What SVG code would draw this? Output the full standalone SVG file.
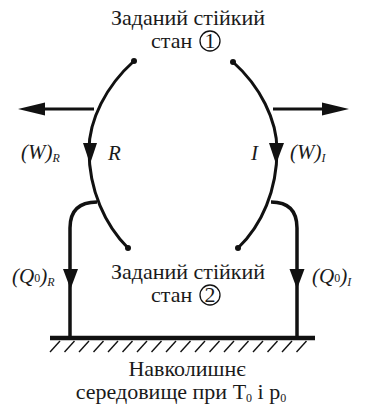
<svg xmlns="http://www.w3.org/2000/svg" width="368" height="409" viewBox="0 0 368 409">
<rect width="368" height="409" fill="#fff"/>
<g id="state1">
  <text style="font-family:'Liberation Serif',serif !important" font-family="Liberation Serif" font-size="22" fill="#1a1a1a" x="188" y="25" text-anchor="middle">Заданий стійкий</text>
  <text style="font-family:'Liberation Serif',serif !important" font-family="Liberation Serif" font-size="22" fill="#1a1a1a" x="151" y="48">стан</text>
  <circle cx="210" cy="41" r="10" fill="none" stroke="#111" stroke-width="1.3"/>
  <text style="font-family:'Liberation Serif',serif !important" font-family="Liberation Serif" font-size="22" fill="#1a1a1a" x="210" y="48" text-anchor="middle">1</text>
</g>
<g id="state2">
  <text style="font-family:'Liberation Serif',serif !important" font-family="Liberation Serif" font-size="22" fill="#1a1a1a" x="188" y="279" text-anchor="middle">Заданий стійкий</text>
  <text style="font-family:'Liberation Serif',serif !important" font-family="Liberation Serif" font-size="22" fill="#1a1a1a" x="151" y="302">стан</text>
  <circle cx="210" cy="295" r="10" fill="none" stroke="#111" stroke-width="1.3"/>
  <text style="font-family:'Liberation Serif',serif !important" font-family="Liberation Serif" font-size="22" fill="#1a1a1a" x="210" y="302" text-anchor="middle">2</text>
</g>
<g id="environment">
  <line x1="50" y1="338" x2="315" y2="338" stroke="#111" stroke-width="4.5"/>
  <g stroke="#111" stroke-width="1.4">
    <line x1="50" y1="352" x2="60" y2="341"/><line x1="64.5" y1="352" x2="74.5" y2="341"/>
    <line x1="79" y1="352" x2="89" y2="341"/><line x1="93.5" y1="352" x2="103.5" y2="341"/>
    <line x1="108" y1="352" x2="118" y2="341"/><line x1="122.5" y1="352" x2="132.5" y2="341"/>
    <line x1="137" y1="352" x2="147" y2="341"/><line x1="151.5" y1="352" x2="161.5" y2="341"/>
    <line x1="166" y1="352" x2="176" y2="341"/><line x1="180.5" y1="352" x2="190.5" y2="341"/>
    <line x1="195" y1="352" x2="205" y2="341"/><line x1="209.5" y1="352" x2="219.5" y2="341"/>
    <line x1="224" y1="352" x2="234" y2="341"/><line x1="238.5" y1="352" x2="248.5" y2="341"/>
    <line x1="253" y1="352" x2="263" y2="341"/><line x1="267.5" y1="352" x2="277.5" y2="341"/>
    <line x1="282" y1="352" x2="292" y2="341"/><line x1="296.5" y1="352" x2="306.5" y2="341"/>
  </g>
  <text style="font-family:'Liberation Serif',serif !important" font-family="Liberation Serif" font-size="22" fill="#1a1a1a" x="187" y="376" text-anchor="middle">Навколишнє</text>
  <text style="font-family:'Liberation Serif',serif !important" font-family="Liberation Serif" font-size="22" fill="#1a1a1a" x="181" y="399" text-anchor="middle">середовище при T<tspan font-size="12" dy="3">0</tspan><tspan dy="-3"> і p</tspan><tspan font-size="12" dy="3">0</tspan></text>
</g>
<g id="connectors" fill="none" stroke="#111">
  <path stroke-width="3" stroke-linecap="round" d="M134,61 C106,86 89,120 89,150 C89,190 105,225 128,248"/>
  <path stroke-width="3" stroke-linecap="round" d="M233,62 C260,86 277,120 277,150 C277,190 262,225 238,248"/>
  <line x1="94" y1="109" x2="42" y2="109" stroke-width="3"/>
  <line x1="273" y1="109" x2="325" y2="109" stroke-width="3"/>
  <path stroke-width="3.5" d="M97,202 C80,202 70,210 70,228 L70,338"/>
  <path stroke-width="3.5" d="M271,202 C288,202 297,210 297,228 L297,338"/>
  <g fill="#111" stroke="none">
    <circle cx="134" cy="61" r="3"/>
    <circle cx="128" cy="248" r="3"/>
    <circle cx="233" cy="62" r="3"/>
    <circle cx="238" cy="248" r="3"/>
    <polygon points="83,143 97,143 90,164"/>
    <polygon points="269,143 284,143 276,164"/>
    <polygon points="18,109 45,102.5 45,115.5"/>
    <polygon points="349,109 322,102.5 322,115.5"/>
    <polygon points="63,269 78,269 70.5,289"/>
    <polygon points="289.5,269 304.5,269 297,289"/>
  </g>
</g>
<g id="labels">
  <text style="font-family:'Liberation Serif',serif !important" font-family="Liberation Serif" font-size="21" font-style="italic" fill="#1a1a1a" x="21" y="159">(W)<tspan font-size="12" dy="3">R</tspan></text>
  <text style="font-family:'Liberation Serif',serif !important" font-family="Liberation Serif" font-size="21" font-style="italic" fill="#1a1a1a" x="108" y="160">R</text>
  <text style="font-family:'Liberation Serif',serif !important" font-family="Liberation Serif" font-size="21" font-style="italic" fill="#1a1a1a" x="251" y="160">I</text>
  <text style="font-family:'Liberation Serif',serif !important" font-family="Liberation Serif" font-size="21" font-style="italic" fill="#1a1a1a" x="290" y="159">(W)<tspan font-size="12" dy="3">I</tspan></text>
  <text style="font-family:'Liberation Serif',serif !important" font-family="Liberation Serif" font-size="21" font-style="italic" fill="#1a1a1a" x="12" y="283">(Q<tspan font-size="12" font-style="normal" dy="-1">0</tspan><tspan dy="1">)</tspan><tspan font-size="12" dy="3">R</tspan></text>
  <text style="font-family:'Liberation Serif',serif !important" font-family="Liberation Serif" font-size="21" font-style="italic" fill="#1a1a1a" x="312" y="283">(Q<tspan font-size="12" font-style="normal" dy="-1">0</tspan><tspan dy="1">)</tspan><tspan font-size="12" dy="3">I</tspan></text>
</g>
</svg>
